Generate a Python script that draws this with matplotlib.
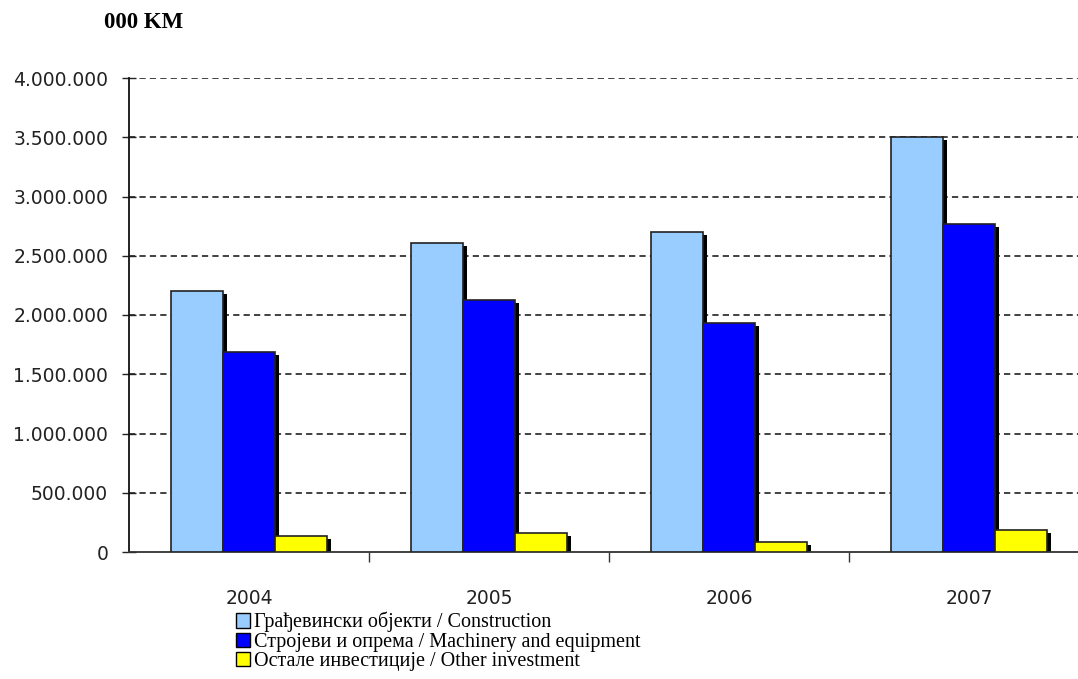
import numpy as np
import matplotlib
matplotlib.use("Agg")
import matplotlib.pyplot as plt
from matplotlib.patches import Patch
from matplotlib.ticker import FuncFormatter, FixedLocator

years = ["2004", "2005", "2006", "2007"]
construction = [2205000, 2605000, 2700000, 3500000]
machinery = [1685000, 2127000, 1930000, 2765000]
other = [138000, 158000, 87000, 186000]

series_labels = [
    "Грађевински објекти / Construction",
    "Стројеви и опрема / Machinery and equipment",
    "Остале инвестиције / Other investment",
]
colors = ["#99CCFF", "#0000FF", "#FFFF00"]

plt.rcParams["lines.scale_dashes"] = False

fig = plt.figure(figsize=(10.78, 6.79), dpi=100)
ax = fig.add_axes([129 / 1078, 127 / 679, 960 / 1078, 474 / 679])

x = np.arange(len(years))
width = 0.217
offsets = [-width, 0, width]
for vals, off, col in zip([construction, machinery, other], offsets, colors):
    vals = np.array(vals)
    # drop shadow
    ax.bar(x + off + 0.018, vals - 25000, width, color="black", zorder=2)
    ax.bar(x + off, vals, width, color=col, edgecolor="#222222", linewidth=1.2, zorder=3)

ax.set_xlim(-0.5, 3.5)
ax.set_ylim(0, 4000000)

ax.yaxis.set_major_locator(FixedLocator(np.arange(0, 4000001, 500000)))
ax.yaxis.set_major_formatter(FuncFormatter(lambda v, p: f"{int(v):,}".replace(",", ".")))
for yv in np.arange(500000, 4000001, 500000):
    ax.axhline(yv, color="#333333", linewidth=1.3, linestyle=(0, (4.5, 3)), zorder=1)

ax.set_xticks([0.5, 1.5, 2.5])
ax.set_xticklabels([])
ax.set_xticks(x, minor=True)
ax.set_xticklabels(years, minor=True)
ax.tick_params(axis="x", which="major", direction="out", length=7, width=1, color="#333333")
ax.tick_params(axis="x", which="minor", length=0, pad=27, labelsize=13.5, labelcolor="#222222")
ax.tick_params(axis="y", direction="inout", length=10, width=1, pad=10, labelsize=13.5,
               labelcolor="#222222", color="#222222")

for s in ["top", "right"]:
    ax.spines[s].set_visible(False)
ax.spines["left"].set_color("#111111")
ax.spines["left"].set_linewidth(1.3)
ax.spines["bottom"].set_color("#333333")
ax.spines["bottom"].set_linewidth(1.3)

fig.text(104 / 1078, 1 - 23 / 679, "000 KM", family="Liberation Serif", fontweight="bold",
         fontsize=16.5, va="center", ha="left")

handles = [Patch(facecolor=c, edgecolor="black", linewidth=1) for c in colors]
fig.legend(handles, series_labels, loc="upper left", bbox_to_anchor=(236 / 1078, 1 - 612 / 679),
           frameon=False, prop={"family": "Liberation Serif", "size": 14.5},
           handlelength=0.7, handleheight=0.7, handletextpad=0.2, labelspacing=0.0,
           borderpad=0, borderaxespad=0)

fig.savefig("out.png", dpi=100)
